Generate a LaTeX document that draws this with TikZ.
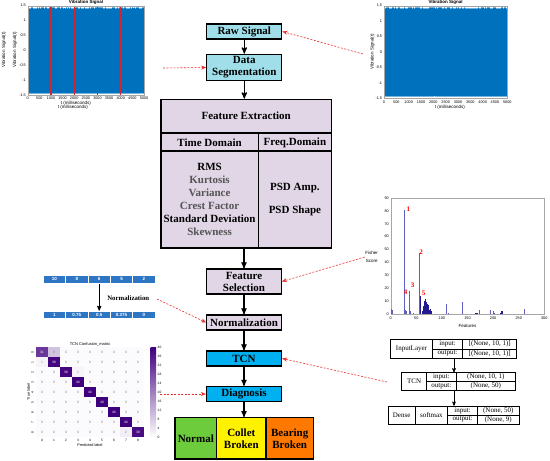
\documentclass[tikz,border=0pt]{standalone}
\usepackage{fontspec}
\setmainfont{Liberation Serif}
\setsansfont{Liberation Sans}
\usepackage{tikz}
\usetikzlibrary{positioning,arrows,arrows.meta}

\definecolor{rawcyan}{RGB}{160,222,234}
\definecolor{lilac}{RGB}{224,214,230}
\definecolor{tcnblue}{RGB}{0,176,240}
\definecolor{okgreen}{RGB}{108,204,60}
\definecolor{brkorange}{RGB}{255,120,0}
\definecolor{mblue}{RGB}{0,114,189}
\definecolor{cellblue}{RGB}{46,117,196}
\definecolor{dashred}{RGB}{235,45,45}
\definecolor{segred}{RGB}{215,35,45}
\definecolor{txtgray}{RGB}{85,85,85}
\definecolor{barblue}{RGB}{95,95,195}
\definecolor{bardark}{RGB}{35,25,145}
\definecolor{cmdark}{RGB}{63,0,125}

\begin{document}
\begin{tikzpicture}[x=1pt,y=-1pt]
  \tikzstyle{box}=[draw,line width=1.2pt,font=\fontsize{11}{13}\selectfont\bfseries,align=center,inner sep=0pt]
  \tikzstyle{arr}=[-stealth',line width=1.2pt]
  \tikzstyle{link}=[-{Stealth[length=5pt,width=4pt]},dash pattern=on 2pt off 1.5pt,dashred,line width=0.6pt]
  \tikzstyle{tick}=[font=\sffamily\fontsize{3.8}{4}\selectfont,inner sep=0.5pt]
  \tikzstyle{axlab}=[font=\sffamily\fontsize{4.5}{5}\selectfont,inner sep=0.5pt]
  \tikzstyle{cell}=[draw=white,line width=0.6pt,fill=cellblue,text=white,font=\sffamily\bfseries\fontsize{4.5}{5}\selectfont,minimum width=22.35pt,minimum height=8.5pt,inner sep=0pt]
  \tikzstyle{tab}=[draw,line width=0.5pt,font=\fontsize{7}{8}\selectfont,inner sep=0pt]
  \tikzstyle{rank}=[text=red,font=\fontsize{7}{8}\selectfont\bfseries,inner sep=0pt]
  \useasboundingbox[fill=white] (0,0) rectangle (550,461);
  \pgfmathsetseed{7}

  % flow chart
  \node[box,fill=rawcyan,minimum width=75pt,minimum height=15pt] (raw) at (244.3,31.5) {Raw Signal};
  \node[box,fill=rawcyan,minimum width=75pt,minimum height=26.5pt,font=\fontsize{11}{12}\selectfont\bfseries] (seg) at (244.3,67.5) {Data\\Segmentation};
  \node[box,fill=lilac,minimum width=170.5pt,minimum height=33.5pt] (fe) at (246.2,116) {Feature Extraction};
  \node[box,fill=lilac,minimum width=97.3pt,minimum height=19pt] (tdom) at (209.6,142.5) {Time Domain};
  \node[box,fill=lilac,minimum width=73.2pt,minimum height=19pt] (fdom) at (294.9,142.5) {Freq.Domain};
  \node[box,fill=lilac,minimum width=97.3pt,minimum height=97pt] (tfeat) at (209.6,199.5)
    {RMS\\\textcolor{txtgray}{Kurtosis}\\\textcolor{txtgray}{Variance}\\\textcolor{txtgray}{Crest Factor}\\Standard Deviation\\\textcolor{txtgray}{Skewness}};
  \node[box,fill=lilac,minimum width=73.2pt,minimum height=97pt] (ffeat) at (294.9,199.5) {PSD Amp.\\[10pt]PSD Shape};
  \node[box,fill=lilac,minimum width=74.6pt,minimum height=25pt,font=\fontsize{11}{12}\selectfont\bfseries] (fs) at (244,281.5) {Feature\\Selection};
  \node[box,fill=lilac,minimum width=74.6pt,minimum height=15pt] (norm) at (244,322.5) {Normalization};
  \node[box,fill=tcnblue,minimum width=75pt,minimum height=15pt] (tcn) at (244,358.5) {TCN};
  \node[box,fill=tcnblue,minimum width=75pt,minimum height=15pt] (diag) at (244,394) {Diagnosis};
  \node[box,fill=okgreen,minimum width=41.7pt,minimum height=41.3pt] (normal) at (195.8,438.3) {Normal};
  \node[box,fill=yellow,minimum width=49.3pt,minimum height=41.3pt,font=\fontsize{11}{12}\selectfont\bfseries] (collet) at (241.3,438.3) {Collet\\Broken};
  \node[box,fill=brkorange,minimum width=47.3pt,minimum height=41.3pt,font=\fontsize{11}{12}\selectfont\bfseries] (bearing) at (289.7,438.3) {Bearing\\Broken};

  \draw[arr] (raw) -- (seg);
  \draw[arr] (seg.south) -- (seg.south |- fe.north);
  \draw[arr] (tfeat.south -| fs.north) -- (fs.north);
  \draw[arr] (fs) -- (norm);
  \draw[arr] (norm) -- (tcn);
  \draw[arr] (tcn) -- (diag);
  \draw[arr] (diag.south) -- (diag.south |- collet.north);

  % left signal plot
  \fill[mblue] (27.7,8.1) rectangle (144,92.6);
  \foreach \i in {0,...,115} {
    \pgfmathsetmacro\hh{1.4*rnd}
    \draw[mblue!55,line width=0.6pt] (28.2+\i,8.1) -- ++(0,-\hh);
    \pgfmathsetmacro\hh{1.4*rnd}
    \draw[mblue!55,line width=0.6pt] (28.2+\i,92.6) -- ++(0,\hh);
  }
  \foreach \t in {1000,2000,3000,4000}
    \fill[segred] ({27.7+\t/5000*116.3-0.6},5.7) rectangle ++(1.2,89.3);
  \draw[gray!70,line width=0.3pt] (27.7,5.7) rectangle (144,95);
  \foreach \t in {0,500,...,5000}
    \node[tick] at ({27.7+\t/5000*116.3},98.6) {\t};
  \foreach \v/\s in {1.5/1.5,1/1,0.5/0.5,0/0,-0.5/-0.5,-1/-1,-1.5/-1.5}
    \node[tick,anchor=east] at (26.5,{50.35-\v*29.77}) {\s};
  \node[axlab,font=\sffamily\bfseries\fontsize{4.5}{5}\selectfont] (ltitle) at (86,2.8) {Vibration Signal};
  \node[axlab,rotate=90] (lylab1) at (4,50) {Vibration Signal(t)};
  \node[axlab,rotate=90] (lylab2) at (15,50) {Vibration Signal(t)};
  \node[axlab] (lxlab1) at (76,103.3) {t (milliseconds)};
  \node[axlab] (lxlab2) at (73,107.5) {t (milliseconds)};

  % right signal plot
  \fill[mblue] (384,8.2) rectangle (507.3,95.8);
  \foreach \i in {0,...,122} {
    \pgfmathsetmacro\hh{1.4*rnd}
    \draw[mblue!55,line width=0.6pt] (384.5+\i,8.2) -- ++(0,-\hh);
    \pgfmathsetmacro\hh{1.4*rnd}
    \draw[mblue!55,line width=0.6pt] (384.5+\i,95.8) -- ++(0,\hh);
  }
  \draw[gray!70,line width=0.3pt] (384,5.7) rectangle (507.3,98.3);
  \foreach \t in {0,500,...,5000}
    \node[tick] at ({384+\t/5000*123.3},101.8) {\t};
  \foreach \v/\s in {1.5/1.5,1/1,0.5/0.5,0/0,-0.5/-0.5,-1/-1,-1.5/-1.5}
    \node[tick,anchor=east] at (382.8,{52-\v*30.87}) {\s};
  \node[axlab,font=\sffamily\bfseries\fontsize{4.5}{5}\selectfont] (rtitle) at (445.6,2.8) {Vibration Signal};
  \node[axlab,rotate=90] (rylab) at (372.5,52) {Vibration Signal(t)};
  \node[axlab] (rxlab) at (450,107.5) {t (milliseconds)};

  % fisher score plot
  \draw[gray!70,line width=0.3pt] (390.7,198) rectangle (544.3,314);
  \foreach \v in {0,10,...,90}
    \node[tick,anchor=east] at (389.5,{314-\v*1.289}) {\v};
  \foreach \v in {0,50,...,300}
    \node[tick] at ({390.7+\v*0.512},318.6) {\v};
  \node[axlab] (feat) at (467.5,325.8) {Features};
  \foreach \f/\h in {1/4,2/4,3/3,26/81,28/3,31/2,37/18,38/2,44/1,57/47,109/8,113/1,140/9,174/3,195/3,200/2,202/1,262/4}
    \fill[barblue] ({390.7+\f*0.512-0.5},314) rectangle ++(1,{-\h*1.289});
  \foreach \f/\h in {58/14,59/6,63/2,64/3,65/6,66/10,67/12,68/8,69/7,70/9,71/8,72/6,73/7,74/5,75/3,77/2,78/4,80/2,165/1,168/1,170/1,215/1,217/2,218/2}
    \fill[bardark] ({390.7+\f*0.512-0.5},314) rectangle ++(1,{-\h*1.289});
  \node[rank] (r1) at (408.3,209) {1};
  \node[rank] (r2) at (421,251.7) {2};
  \node[rank] (r3) at (412.7,285.7) {3};
  \node[rank] (r4) at (405.7,292.3) {4};
  \node[rank] (r5) at (423.7,293.7) {5};
  \node[axlab,align=center,font=\sffamily\fontsize{4.5}{7.5}\selectfont] (fisher) at (371.7,257) {Fisher\\Score};

  % normalization example
  \foreach \v [count=\i] in {10,8,6,5,2}
    \node[cell] (top\i) at ({32.15+22.35*\i},279.3) {\v};
  \foreach \v [count=\i] in {1,0.75,0.5,0.375,0}
    \node[cell,minimum height=7.5pt] (bot\i) at ({32.15+22.35*\i},314.7) {\v};
  \draw[-stealth',line width=0.8pt] (top3) -- (bot3);
  \node[font=\fontsize{6.8}{7}\selectfont\bfseries] (normlab) at (128.3,297.7) {Normalization};

  % confusion matrix
  \node[axlab,font=\sffamily\fontsize{4}{5}\selectfont] (ctitle) at (90,344) {TCN Confusion\_matrix};
  \foreach \r/\vals in {0/{31,9,0,0,0,0,0,0,0},1/{1,39,0,0,0,0,0,0,0},2/{0,0,39,1,0,0,0,0,0},3/{0,0,0,40,0,0,0,0,0},4/{0,0,0,0,40,0,0,0,0},5/{0,0,0,0,0,40,0,0,0},6/{0,0,0,0,0,0,40,0,0},7/{0,0,0,0,0,0,0,40,0},8/{0,0,0,0,0,0,0,2,38}}
    \foreach \v [count=\c from 0] in \vals {
      \pgfmathsetmacro\pc{2+\v/40*98}
      \pgfmathsetmacro\tc{\v>20 ? "white" : "gray"}
      \fill[cmdark!\pc!white] ({36+12*\c},{347.3+10*\r}) rectangle ++(12,10);
      \node[text=\tc,font=\sffamily\fontsize{3.3}{4}\selectfont,inner sep=0pt] at ({42+12*\c},{352.3+10*\r}) {\v};
    }
  \foreach \i in {0,...,8} {
    \node[tick,font=\sffamily\fontsize{3.3}{4}\selectfont] at ({42+12*\i},440.8) {\i};
    \node[tick,font=\sffamily\fontsize{3.3}{4}\selectfont,rotate=90] at (32.5,{352.3+10*\i}) {\i};
  }
  \node[tick] (plab) at (90,444.8) {Predicted label};
  \node[tick,rotate=90] (tlab) at (28.5,392) {True label};
  \shade[top color=cmdark,bottom color=white] (150.7,347.3) rectangle (156,437.3);
  \foreach \v in {0,4,...,40}
    \node[tick,font=\sffamily\fontsize{3.3}{4}\selectfont,anchor=west] at (157,{437.3-\v*2.25}) {\v};

  % model summary
  \node[tab,minimum width=41.6pt,minimum height=19pt] (ilname) at (411.5,348.8) {InputLayer};
  \node[tab,minimum width=30.4pt,minimum height=9.5pt] (ilin) at (447.5,344.1) {input:};
  \node[tab,minimum width=30.4pt,minimum height=9.5pt] (ilout) at (447.5,353.6) {output:};
  \node[tab,minimum width=54pt,minimum height=9.5pt] (ilinv) at (489.7,344.1) {[(None, 10, 1)]};
  \node[tab,minimum width=54pt,minimum height=9.5pt] (iloutv) at (489.7,353.6) {[(None, 10, 1)]};
  \node[tab,minimum width=25pt,minimum height=18pt] (tcname) at (414.2,381.7) {TCN};
  \node[tab,minimum width=29.3pt,minimum height=9pt] (tcin) at (441.35,377.2) {input:};
  \node[tab,minimum width=29.3pt,minimum height=9pt] (tcout) at (441.35,386.2) {output:};
  \node[tab,minimum width=59.7pt,minimum height=9pt] (tcinv) at (485.85,377.2) {(None, 10, 1)};
  \node[tab,minimum width=59.7pt,minimum height=9pt] (tcoutv) at (485.85,386.2) {(None, 50)};
  \node[tab,minimum width=26.7pt,minimum height=18.3pt] (dname) at (401.65,415.15) {Dense};
  \node[tab,minimum width=32.7pt,minimum height=18.3pt] (dact) at (431.35,415.15) {softmax};
  \node[tab,minimum width=29.6pt,minimum height=9.15pt] (din) at (462.5,410.6) {input:};
  \node[tab,minimum width=29.6pt,minimum height=9.15pt] (dout) at (462.5,419.7) {output:};
  \node[tab,minimum width=42pt,minimum height=9.15pt] (dinv) at (498.3,410.6) {(None, 50)};
  \node[tab,minimum width=42pt,minimum height=9.15pt] (doutv) at (498.3,419.7) {(None, 9)};
  \draw[-stealth',line width=0.6pt] ([xshift=6.5pt]ilout.south) -- ([xshift=6.5pt]ilout.south |- tcin.north);
  \draw[-stealth',line width=0.6pt] ([xshift=12.65pt]tcout.south) -- ([xshift=12.65pt]tcout.south |- din.north);

  % red links
  \coordinate (rsig) at (363,54);
  \coordinate (lsig) at (163,68);
  \coordinate (nstart) at (157,299);
  \coordinate (mstart) at (387,382);
  \coordinate (cstart) at (160,394);
  \draw[link] (rsig) -- (raw.east);
  \draw[link] (lsig) -- (seg.west);
  \draw[link] (fisher.west) -- (fs.east);
  \draw[link] (nstart) -- (norm.west);
  \draw[link] (mstart) -- (tcn.east);
  \draw[link] (cstart) -- (diag.west);
\end{tikzpicture}
\end{document}
